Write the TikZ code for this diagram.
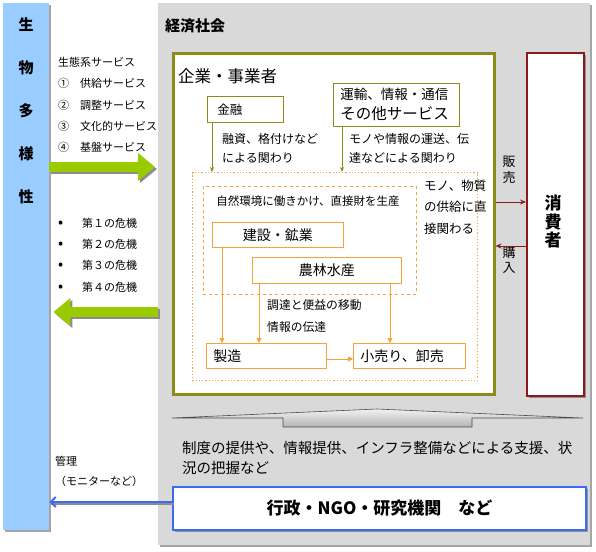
\documentclass[tikz,border=0pt]{standalone}
\usepackage{fontspec}
\setmainfont{Noto Sans CJK JP}
\usetikzlibrary{positioning}
\usetikzlibrary{shadows}
\usetikzlibrary{arrows.meta}

\definecolor{bioblue}{HTML}{99CCFF}
\definecolor{econgrey}{HTML}{D9D9D9}
\definecolor{leafgreen}{HTML}{99CC00}
\definecolor{firmolive}{HTML}{8C8C1A}
\definecolor{consred}{HTML}{8B1A1A}
\definecolor{flowora}{HTML}{F2A33A}
\definecolor{govblue}{HTML}{3D6BF0}

\tikzset{
  fs/.style 2 args={font=\fontsize{#1}{#2}\selectfont},
  boxshadow/.style={drop shadow={shadow xshift=2pt,shadow yshift=-2pt,opacity=0.5,fill=black!70}},
  olivebox/.style={draw=firmolive,line width=0.8pt,fill=white,anchor=north west},
  orangebox/.style={draw=flowora,line width=0.8pt,fill=white,anchor=north west},
  olivearrow/.style={draw=firmolive,line width=0.8pt,-{Stealth[length=5pt,width=4pt]}},
  orangearrow/.style={draw=flowora,line width=0.8pt,-{Triangle[length=5pt,width=5pt]}},
  redarrow/.style={draw=consred,line width=0.8pt,-{Stealth[length=6pt,width=5pt]}},
  bigarrow/.style={line width=10pt,-{Triangle[length=17pt,width=27pt]}},
}
\newcommand{\crisisdot}{\makebox[24pt][l]{\fontsize{15}{15}\selectfont •}}

\begin{document}
\begin{tikzpicture}[x=1pt,y=-1pt]
\useasboundingbox (0,0) rectangle (596,551);
\fill[white] (0,0) rectangle (596,551);

% biodiversity
\node[fill=bioblue,minimum width=46,minimum height=527,anchor=north west,inner sep=0,boxshadow] (bio) at (3,3) {};
\node[font=\fontsize{15}{43}\selectfont\bfseries,align=center] (biotext) at (26,111) {生\\物\\多\\様\\性};

% economy
\node[fill=econgrey,minimum width=432,minimum height=542,anchor=north west,inner sep=0,boxshadow] (econ) at (158,3) {};
\node[font=\fontsize{15}{18}\selectfont\bfseries,anchor=west,inner sep=0] (econtitle) at (165,26) {経済社会};

% firms
\node[draw=firmolive,line width=2.5pt,fill=white,minimum width=321,minimum height=341,anchor=north west,inner sep=0,boxshadow] (firm) at (172,52) {};
\node[fs={16.5}{20},anchor=west,inner sep=0] (firmtitle) at (178,76) {企業・事業者};

\node[olivebox,fs={12.5}{15},minimum width=76,minimum height=26,text width=56,inner xsep=10,align=left] (kinyu) at (207,96) {金融};
\node[olivebox,fs={13.5}{20},minimum width=126,minimum height=43,text width=112,inner xsep=7,align=left] (trans) at (333,83) {運輸、情報・通信\\{\fontsize{15.5}{20}\selectfont その他サービス}};
\node[fs={12}{19},anchor=west,align=left,inner sep=0] (kinyunote) at (222,148) {融資、格付けなど\\による関わり};
\node[fs={12}{19},anchor=west,align=left,inner sep=0] (transnote) at (349,148) {モノや情報の運送、伝\\達などによる関わり};

% supply chain
\node[draw=flowora,dotted,line width=1.2pt,minimum width=285,minimum height=208,anchor=north west,inner sep=0] (supply) at (192,172) {};
\node[draw=flowora,dashed,line width=0.7pt,minimum width=213,minimum height=108,anchor=north west,inner sep=0] (primary) at (203,186) {};
\node[fs={11.5}{14}] (primarynote) at (308,201) {自然環境に働きかけ、直接財を生産};
\node[orangebox,fs={14}{16},minimum width=131,minimum height=25] (kensetsu) at (212,222) {建設・鉱業};
\node[orangebox,fs={14}{16},minimum width=149,minimum height=26] (nourin) at (252,257) {農林水産};
\node[orangebox,fs={14}{16},minimum width=120,minimum height=25,text width=106,inner xsep=7,align=left] (seizou) at (206,343) {製造};
\node[orangebox,fs={14}{16},minimum width=112,minimum height=25,text width=98,inner xsep=7,align=left] (kouri) at (353,343) {小売り、卸売};
\node[fs={12.5}{21.5},anchor=west,align=left,inner sep=0] (supplynote) at (424,207) {モノ、物質\\の供給に直\\接関わる};
\node[fs={11.8}{22},anchor=west,align=left,inner sep=0] (flownote) at (267,316) {調達と便益の移動\\情報の伝達};

\draw[olivearrow] (kinyu.south -| 212,0) -- (supply.north -| 212,0);
\draw[olivearrow] (trans.south -| 342,0) -- (supply.north -| 342,0);
\draw[orangearrow] (kensetsu.south -| 222,0) -- (seizou.north -| 222,0);
\draw[orangearrow] (nourin.south -| 259,0) -- (seizou.north -| 259,0);
\draw[orangearrow] (nourin.south -| 390,0) -- (kouri.north -| 390,0);
\draw[orangearrow] (seizou.east |- 0,359) -- (kouri.west |- 0,359);

% consumers
\node[draw=consred,line width=2pt,fill=white,minimum width=57,minimum height=343,anchor=north west,inner sep=0,boxshadow] (cons) at (526,52) {};
\node[font=\fontsize{17}{18.5}\selectfont\bfseries,align=center] (constext) at (553,222) {消\\費\\者};
\node[fs={13}{16},align=center] (sell) at (509,170) {販\\売};
\node[fs={13}{15},align=center] (buy) at (509,260) {購\\入};
\draw[redarrow] (firm.east |- 0,202) -- (cons.west |- 0,202);
\draw[redarrow] (cons.west |- 0,246) -- (firm.east |- 0,246);

% ecosystem services and crises
\node[fs={11}{21.25},anchor=west,align=left,inner sep=0] (services) at (58,105) {生態系サービス\\\makebox[22pt][l]{①}供給サービス\\\makebox[22pt][l]{②}調整サービス\\\makebox[22pt][l]{③}文化的サービス\\\makebox[22pt][l]{④}基盤サービス};
\node[fs={11}{21.3},anchor=west,align=left,inner sep=0] (crises) at (58,255) {\crisisdot 第１の危機\\\crisisdot 第２の危機\\\crisisdot 第３の危機\\\crisisdot 第４の危機};
\draw[bigarrow,black!45,transform canvas={shift={(2pt,-2pt)}}] (bio.east |- 0,167) -- ([xshift=-3pt]econ.west |- 0,167);
\draw[bigarrow,leafgreen] (bio.east |- 0,167) -- ([xshift=-3pt]econ.west |- 0,167);
\draw[bigarrow,black!45,transform canvas={shift={(2pt,-2pt)}}] (econ.west |- 0,312) -- ([xshift=4pt]bio.east |- 0,312);
\draw[bigarrow,leafgreen] (econ.west |- 0,312) -- ([xshift=4pt]bio.east |- 0,312);

% support
\shade[top color=gray!10,bottom color=gray!60,draw=gray!60!black,line width=0.6pt]
  (172,418) -- (377,409) -- (583,418) -- (472,418) -- (472,427) -- (283,427) -- (283,418) -- cycle;
\node[fs={14.5}{20},anchor=west,align=left,inner sep=0] (supportnote) at (182,458) {制度の提供や、情報提供、インフラ整備などによる支援、状\\況の把握など};
\node[draw=govblue,line width=2pt,fill=white,minimum width=413,minimum height=43,anchor=north west,inner sep=0,boxshadow,font=\fontsize{17}{20}\selectfont\bfseries] (gov) at (172,486) {行政・NGO・研究機関\quad など};
\node[fs={11}{20},anchor=west,align=left,inner sep=0] (govnote) at (55,471) {管理\\（モニターなど）};
\draw[draw=black!45,line width=2pt,transform canvas={shift={(1.5pt,-1.5pt)}}] (gov.west |- 0,502) -- (bio.east |- 0,502);
\draw[draw=govblue,line width=2pt,-{Straight Barb[length=5pt,width=10pt]}] (gov.west |- 0,502) -- (bio.east |- 0,502);

\end{tikzpicture}
\end{document}
